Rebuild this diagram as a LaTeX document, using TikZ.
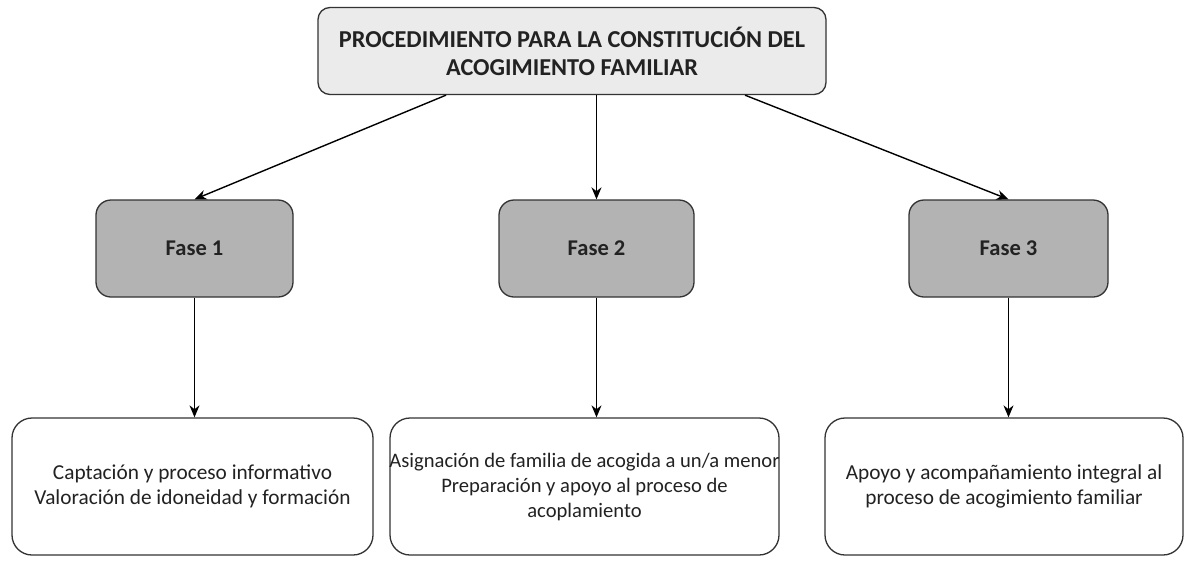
\documentclass[tikz,border=0pt]{standalone}
\usepackage{fontspec}
\setmainfont{Carlito}
\usetikzlibrary{arrows.meta}

\definecolor{titlefill}{HTML}{EBEBEB}
\definecolor{fasefill}{HTML}{B3B3B3}
\definecolor{edge}{HTML}{333333}
\definecolor{letra}{HTML}{222222}

\tikzset{
	titlebox/.style={draw=edge,line width=1.3pt,fill=titlefill,rounded corners=12pt,text=letra,
		minimum width=508pt,minimum height=87pt,align=center,font=\bfseries\fontsize{24.3}{28}\selectfont},
	fasebox/.style={draw=edge,line width=1.3pt,fill=fasefill,rounded corners=15pt,text=letra,
		minimum height=97pt,font=\bfseries\fontsize{22.5}{26}\selectfont},
	textbox/.style={draw=edge,line width=1.3pt,fill=white,rounded corners=20pt,text=letra,
		minimum height=137pt,align=center,font=\fontsize{21.3}{25}\selectfont},
	flecha/.style={draw=black,line width=1.4pt,-{Stealth[length=12pt,width=10pt]}}
}

\begin{document}
\begin{tikzpicture}[x=1pt,y=-1pt]
\useasboundingbox (0,0) rectangle (1191,563);

\node[titlebox] (titulo) at (572,51)
	{PROCEDIMIENTO PARA LA CONSTITUCIÓN DEL\\ACOGIMIENTO FAMILIAR};

\foreach \n/\x/\w in {1/194.5/197,2/596.5/195,3/1008.5/199}
{
	\node[fasebox,minimum width=\w pt] (fase\n) at (\x,248.5){Fase \n};
}

\node[textbox,minimum width=361pt] (paso1) at (192.5,486.5)
	{Captación y proceso informativo\\Valoración de idoneidad y formación};
\node[textbox,minimum width=389pt,font=\fontsize{20.6}{25}\selectfont] (paso2) at (584.5,486.5)
	{\makebox[370pt]{Asignación de familia de acogida a un/a menor}\\Preparación y apoyo al proceso de\\acoplamiento};
\node[textbox,minimum width=358pt] (paso3) at (1004,486.5)
	{Apoyo y acompañamiento integral al\\proceso de acogimiento familiar};

\draw[flecha] (titulo.south -| 446,0) -- (fase1.north);
\draw[flecha] (titulo.south -| fase2.north) -- (fase2.north);
\draw[flecha] (titulo.south -| 745,0) -- (fase3.north);

\foreach \n in {1,2,3}
{
	\draw[flecha] (fase\n.south) -- (fase\n.south |- paso\n.north);
}

\end{tikzpicture}
\end{document}
